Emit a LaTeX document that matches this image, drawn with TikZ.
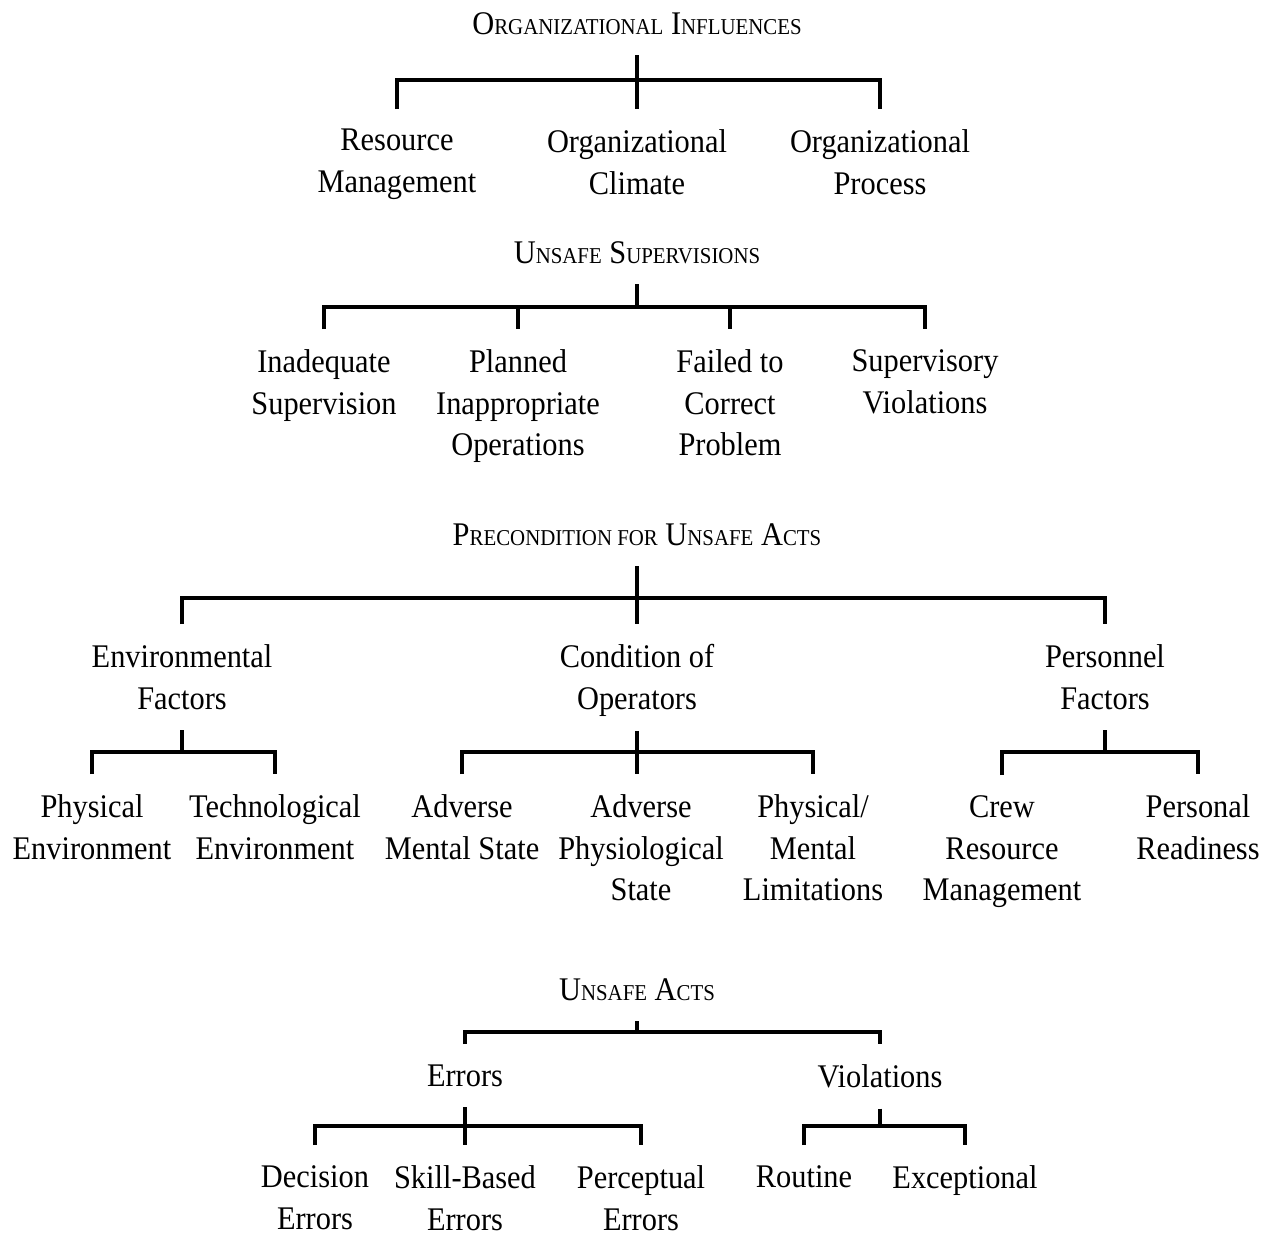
\documentclass[tikz,border=0pt]{standalone}
\usepackage{fontspec}
\setmainfont[FakeStretch=0.92]{Liberation Serif}
\usepackage{tikz}
\usetikzlibrary{positioning}

% small capitals for the level headings
\newcommand\smc[1]{{\fontsize{12.9}{14}\selectfont #1}}

\begin{document}
\begin{tikzpicture}[
  x=0.02cm,y=-0.02cm,
  every node/.style={font=\fontsize{18.8}{23.8}\selectfont,inner sep=0pt,
                     text depth=0pt,align=center},
  hdr/.style={anchor=base},
  item/.style={anchor=north},
  link/.style={line width=2pt,line join=miter},
  stem/.style={link,shorten <=0.42cm},
  drop/.style={link,shorten >=0.4cm},
  bracket/.style={link,shorten <=0.4cm,shorten >=0.4cm},
  thru/.style={link,shorten <=0.42cm,shorten >=0.4cm}
]
\useasboundingbox (0,0) rectangle (1270,1235);

%% Level 1: organizational influences
\node[hdr] (oi) at (637,34) {O\smc{RGANIZATIONAL} I\smc{NFLUENCES}};
\node[item] (rm) at (397,129) {Resource\\Management};
\node[item] (oc) at (637,129) {Organizational\\Climate};
\node[item] (op) at (880,129) {Organizational\\Process};
\coordinate (oiBar) at (637,80);

%% Level 2: unsafe supervisions
\node[hdr] (us) at (637,263) {U\smc{NSAFE} S\smc{UPERVISIONS}};
\node[item] (ias) at (324,349) {Inadequate\\Supervision};
\node[item] (pio) at (518,349) {Planned\\Inappropriate\\Operations};
\node[item] (fcp) at (730,349) {Failed to\\Correct\\Problem};
\node[item] (sv)  at (925,349) {Supervisory\\Violations};
\coordinate (usBar) at (637,307);

%% Level 3: preconditions
\node[hdr] (pua) at (637,545) {P\smc{RECONDITION FOR} U\smc{NSAFE} A\smc{CTS}};
\node[item] (ef)  at (182,644)  {Environmental\\Factors};
\node[item] (coo) at (637,644)  {Condition of\\Operators};
\node[item] (pf)  at (1105,644) {Personnel\\Factors};
\coordinate (puaBar) at (637,598);

\node[item] (phe) at (92,794)   {Physical\\Environment};
\node[item] (tee) at (275,794)  {Technological\\Environment};
\node[item] (ams) at (462,794)  {Adverse\\Mental State};
\node[item] (aps) at (641,794)  {Adverse\\Physiological\\State};
\node[item] (pml) at (813,794)  {Physical/\\Mental\\Limitations};
\node[item] (crm) at (1002,795) {Crew\\Resource\\Management};
\node[item] (pr)  at (1198,794) {Personal\\Readiness};
\coordinate (efBar)  at (182,752);
\coordinate (cooBar) at (637,752);
\coordinate (pfBar)  at (1105,752);

%% Level 4: unsafe acts
\node[hdr] (ua) at (637,1000) {U\smc{NSAFE} A\smc{CTS}};
\node[item] (err) at (465,1064) {Errors};
\node[item] (vio) at (880,1064) {Violations};
\coordinate (uaBar) at (637,1032);

\node[item] (de)   at (315,1165) {Decision\\Errors};
\node[item] (sbe)  at (465,1165) {Skill-Based\\Errors};
\node[item] (perr) at (641,1165) {Perceptual\\Errors};
\node[item] (rou)  at (804,1165) {Routine};
\node[item] (exc)  at (965,1165) {Exceptional};
\coordinate (errBar) at (465,1126);
\coordinate (vioBar) at (880,1126);

%% Connectors
\draw[thru] (oi.south) -- (oc.north);
\draw[bracket] (rm.north) -- (rm.north |- oiBar) -- (op.north |- oiBar) -- (op.north);

\draw[stem] (us.south) -- (usBar);
\draw[bracket] (ias.north) -- (ias.north |- usBar) -- (sv.north |- usBar) -- (sv.north);
\draw[drop] (pio.north |- usBar) -- (pio.north);
\draw[drop] (fcp.north |- usBar) -- (fcp.north);

\draw[thru] (pua.south) -- (coo.north |- puaBar) -- (coo.north);
\draw[bracket] (ef.north) -- (ef.north |- puaBar) -- (pf.north |- puaBar) -- (pf.north);

\draw[stem] (ef.south) -- (efBar);
\draw[bracket] (phe.north) -- (phe.north |- efBar) -- (tee.north |- efBar) -- (tee.north);
\draw[thru] (coo.south) -- (coo.south |- aps.north);
\draw[bracket] (ams.north) -- (ams.north |- cooBar) -- (pml.north |- cooBar) -- (pml.north);
\draw[stem] (pf.south) -- (pfBar);
\draw[bracket] (crm.north) -- (crm.north |- pfBar) -- (pr.north |- pfBar) -- (pr.north);

\draw[stem] (ua.south) -- (uaBar);
\draw[bracket] (err.north) -- (err.north |- uaBar) -- (vio.north |- uaBar) -- (vio.north);

\draw[thru] (err.south) -- (sbe.north);
\draw[bracket] (de.north) -- (de.north |- errBar) -- (perr.north |- errBar) -- (perr.north);
\draw[stem] (vio.south) -- (vioBar);
\draw[bracket] (rou.north) -- (rou.north |- vioBar) -- (exc.north |- vioBar) -- (exc.north);

\end{tikzpicture}
\end{document}
